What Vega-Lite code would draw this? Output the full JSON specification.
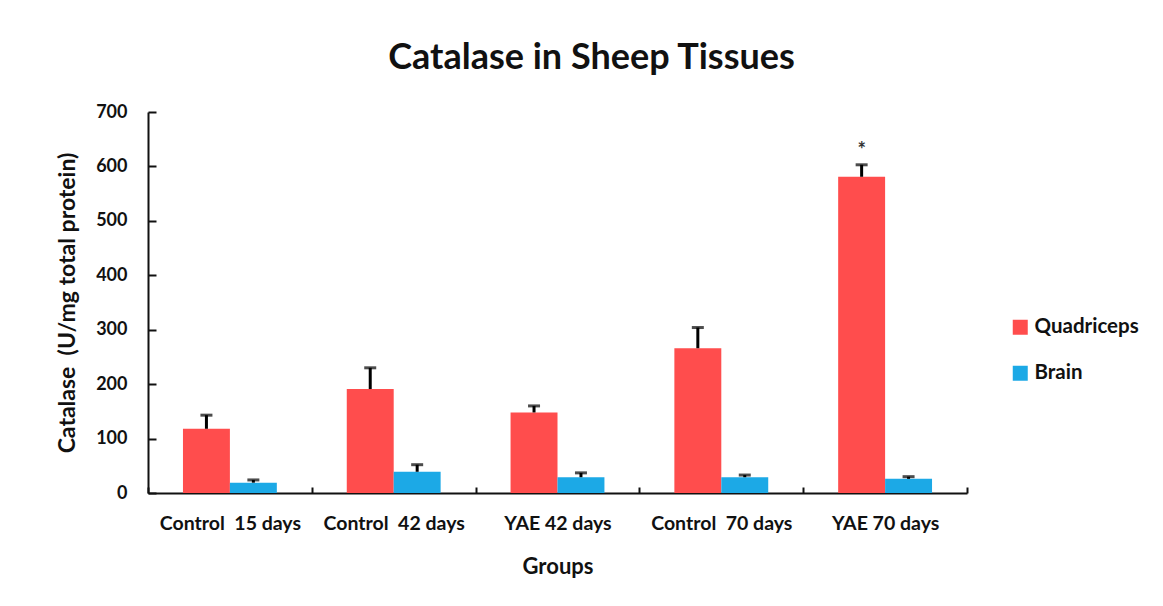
{
  "$schema": "https://vega.github.io/schema/vega-lite/v6.json",
  "autosize": "none",
  "width": 819,
  "height": 381,
  "padding": {"left": 148, "top": 112, "right": 196, "bottom": 113},
  "background": "white",
  "title": {
    "text": "Catalase in Sheep Tissues",
    "font": "Lato",
    "fontSize": 36,
    "fontWeight": "bold",
    "color": "#111111",
    "offset": 26,
    "dx": 34
  },
  "data": {
    "values": [
      {"group": "Control \u00a015 days", "tissue": "Quadriceps", "value": 118, "upper": 143, "sig": ""},
      {"group": "Control \u00a015 days", "tissue": "Brain", "value": 19, "upper": 24, "sig": ""},
      {"group": "Control \u00a042 days", "tissue": "Quadriceps", "value": 191, "upper": 230, "sig": ""},
      {"group": "Control \u00a042 days", "tissue": "Brain", "value": 39, "upper": 52, "sig": ""},
      {"group": "YAE 42 days", "tissue": "Quadriceps", "value": 148, "upper": 160, "sig": ""},
      {"group": "YAE 42 days", "tissue": "Brain", "value": 29, "upper": 37, "sig": ""},
      {"group": "Control \u00a070 days", "tissue": "Quadriceps", "value": 266, "upper": 304, "sig": ""},
      {"group": "Control \u00a070 days", "tissue": "Brain", "value": 29, "upper": 33, "sig": ""},
      {"group": "YAE 70 days", "tissue": "Quadriceps", "value": 581, "upper": 603, "sig": "*"},
      {"group": "YAE 70 days", "tissue": "Brain", "value": 26, "upper": 30, "sig": ""}
    ]
  },
  "encoding": {
    "x": {
      "field": "group",
      "type": "nominal",
      "sort": null,
      "scale": {"paddingInner": 0, "paddingOuter": 0},
      "axis": {
        "title": "Groups",
        "labelAngle": 0,
        "labelFont": "Lato",
        "labelFontSize": 19.5,
        "labelFontWeight": "bold",
        "labelColor": "#111111",
        "labelPadding": 27,
        "titleFont": "Lato",
        "titleFontSize": 22,
        "titleFontWeight": "bold",
        "titleColor": "#111111",
        "titlePadding": 24,
        "domainColor": "#111111",
        "domainWidth": 2,
        "tickBand": "extent",
        "tickSize": -6,
        "tickWidth": 2,
        "tickColor": "#111111"
      }
    },
    "xOffset": {"field": "tissue", "type": "nominal", "sort": ["Quadriceps", "Brain"], "scale": {"paddingInner": 0, "paddingOuter": 0.745}}
  },
  "layer": [
    {
      "mark": {"type": "bar"},
      "encoding": {
        "y": {
          "field": "value",
          "type": "quantitative",
          "scale": {"domain": [0, 700]},
          "axis": {
            "title": "Catalase \u00a0(U/mg total protein)",
            "values": [0, 100, 200, 300, 400, 500, 600, 700],
            "grid": false,
            "labelFont": "Lato",
            "labelFontSize": 18,
            "labelFontWeight": "bold",
            "labelColor": "#111111",
            "labelPadding": 29,
            "titleFont": "Lato",
            "titleFontSize": 23,
            "titleFontWeight": "bold",
            "titleColor": "#111111",
            "titlePadding": 16,
            "domainColor": "#111111",
            "domainWidth": 2,
            "tickSize": -8,
            "tickWidth": 2,
            "tickColor": "#111111"
          }
        },
        "color": {
          "field": "tissue",
          "type": "nominal",
          "sort": ["Quadriceps", "Brain"],
          "scale": {"domain": ["Quadriceps", "Brain"], "range": ["#FF4D4D", "#1CA9E6"]},
          "legend": {
            "title": null,
            "orient": "none",
            "legendX": 862,
            "legendY": 205,
            "symbolType": "square",
            "symbolSize": 225,
            "symbolStrokeWidth": 0,
            "labelFont": "Lato",
            "labelFontSize": 20.5,
            "labelFontWeight": "bold",
            "labelColor": "#111111",
            "labelOffset": 4,
            "rowPadding": 25
          }
        }
      }
    },
    {
      "mark": {"type": "rule", "color": "#000000", "strokeWidth": 3},
      "encoding": {
        "y": {"field": "value", "type": "quantitative"},
        "y2": {"field": "upper"}
      }
    },
    {
      "mark": {"type": "tick", "color": "#000000", "thickness": 3, "size": 12, "orient": "horizontal"},
      "encoding": {
        "y": {"field": "upper", "type": "quantitative"}
      }
    },
    {
      "mark": {"type": "text", "font": "Lato", "fontSize": 20, "fontWeight": "bold", "color": "#333333", "dy": -14},
      "encoding": {
        "y": {"field": "upper", "type": "quantitative"},
        "text": {"field": "sig"}
      }
    }
  ],
  "config": {"view": {"stroke": null}}
}
